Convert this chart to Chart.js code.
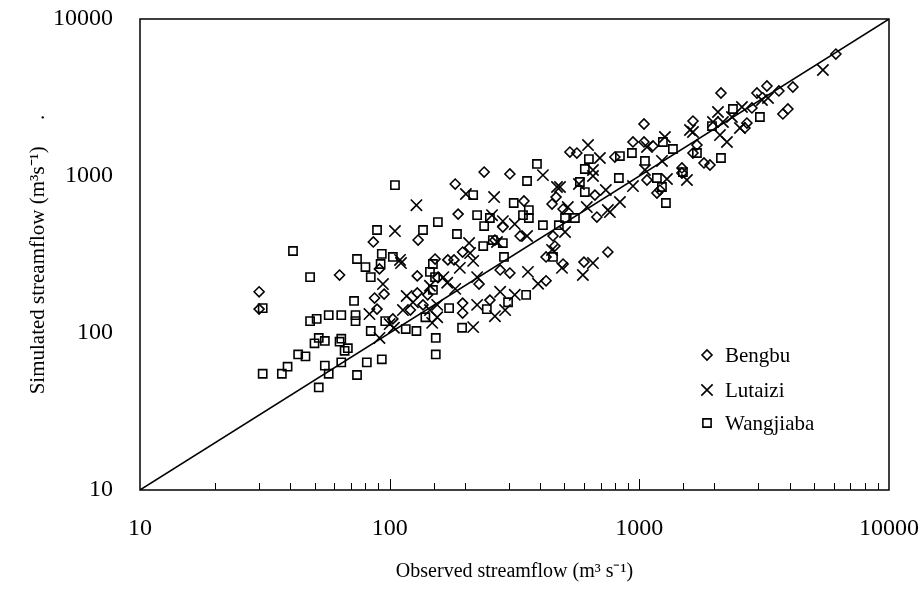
<!DOCTYPE html>
<html>
<head>
<meta charset="utf-8">
<script src="https://cdn.jsdelivr.net/npm/chart.js@4.4.0/dist/chart.umd.min.js"></script>
<style>
  html, body { margin: 0; padding: 0; background: #fff; }
  #c { display: block; }
</style>
</head>
<body>
<canvas id="c" width="920" height="592"></canvas>
<script>
// observed / simulated streamflow pairs (m3/s)
const bengbu = [
  [86,380],[63,234],[30,183],[30,142],[87,167],[95,177],[89,142],[91,256],[130,391],[129,231],
  [103,123],[129,180],[121,140],[188,572],[196,328],[152,296],[171,292],[181,292],[156,225],[228,205],
  [196,155],[252,162],[142,175],[264,391],[239,1060],[303,1030],[183,889],[345,693],[447,663],[464,734],
  [284,473],[333,415],[451,415],[277,252],[303,241],[136,151],[196,134],[423,215],[423,305],[1044,2144],
  [1640,2240],[943,1647],[527,1421],[562,1401],[798,1321],[1044,1647],[1134,1553],[1640,1401],[1481,1125],[1481,1045],
  [1073,943],[1209,814],[1176,779],[495,616],[676,548],[664,756],[459,358],[495,275],[600,283],[748,328],
  [6127,5984],[4122,3689],[3622,3479],[3244,3743],[2958,3378],[2123,3378],[2825,2712],[3936,2672],[3758,2483],[2697,2175],
  [2648,2022],[1701,1576],[1815,1211],[1918,1175]
];
const lutaizi = [
  [105,446],[110,292],[111,279],[94,205],[117,172],[124,157],[83,132],[113,140],[100,114],[104,108],
  [91,93],[128,652],[257,563],[208,374],[164,227],[191,260],[216,288],[224,227],[145,200],[183,191],
  [155,151],[224,151],[411,1013],[202,768],[262,734],[284,516],[317,494],[355,415],[269,380],[210,323],
  [447,338],[468,851],[358,245],[393,206],[277,183],[317,175],[290,140],[264,128],[216,109],[145,140],
  [155,126],[148,116],[170,209],[623,1574],[695,1302],[652,1092],[652,1000],[481,851],[573,889],[734,814],
  [943,863],[1053,1092],[1232,1247],[1073,1530],[1266,1771],[1640,1906],[1551,943],[1290,957],[836,683],[748,607],
  [616,634],[517,634],[762,589],[504,440],[652,279],[594,234],[490,260],[5436,4734],[3275,3139],[2576,2751],
  [2065,2556],[1972,2207],[2162,2207],[2103,1822],[2243,1647],[2529,2022],[1595,1963],[2349,2375],[3098,3049]
];
const wangjiaba = [
  [41,333],[48,227],[31,144],[72,160],[57,130],[64,130],[73,130],[73,119],[48,119],[51,123],
  [84,103],[52,93],[50,86],[55,89],[63,88],[64,92],[68,80],[66,77],[43,73],[46,71],
  [39,61],[55,62],[64,65],[81,65],[93,68],[31,55],[37,55],[57,55],[74,54],[52,45],
  [74,296],[80,263],[84,227],[93,319],[92,275],[103,305],[89,453],[96,119],[116,106],[128,103],
  [156,509],[136,453],[186,427],[224,563],[239,480],[237,358],[259,391],[149,275],[145,245],[152,227],
  [149,188],[173,144],[245,142],[389,1193],[355,929],[216,756],[314,673],[361,607],[361,540],[342,563],
  [252,540],[411,486],[476,486],[284,374],[287,305],[298,157],[352,175],[139,126],[195,108],[153,93],
  [153,73],[451,305],[628,1282],[605,1108],[836,1340],[934,1401],[1053,1247],[1243,1647],[1363,1486],[828,971],
  [578,916],[605,790],[1176,971],[1232,851],[1278,673],[552,540],[504,540],[1495,1060],[2371,2672],[3041,2375],
  [1701,1401],[2123,1302],[1954,2081],[105,875]
];
const seriesNames = ['Bengbu', 'Lutaizi', 'Wangjiaba'];
const axisTicks = [10, 100, 1000, 10000];
const oneToOne = [10, 10000];

const serif = "'Liberation Serif', 'Times New Roman', serif";
const toPoints = (pairs) => pairs.map(([x, y]) => ({ x, y }));
const isMajor = (v) => axisTicks.includes(Math.round(v));

// keep the plot box where the figure has it: no extra room for label overhang
const noOverhang = (s) => {
  s.paddingTop = 0;
  s.paddingBottom = 0;
  s.paddingLeft = 0;
  s.paddingRight = 0;
};

// box round the plot, inward ticks on the x axis, legend inside the plot
const frame = {
  id: 'frame',
  afterDraw(chart) {
    const { ctx, chartArea: a, scales: { x } } = chart;
    ctx.save();
    ctx.strokeStyle = '#000';
    ctx.lineWidth = 1.5;
    ctx.strokeRect(a.left, a.top, a.right - a.left, a.bottom - a.top);

    ctx.lineWidth = 1;
    x.ticks.forEach((t) => {
      if (t.value <= x.min || t.value >= x.max) return;
      const px = Math.round(x.getPixelForValue(t.value)) + 0.5;
      ctx.beginPath();
      ctx.moveTo(px, a.bottom);
      ctx.lineTo(px, a.bottom - (isMajor(t.value) ? 11 : 7));
      ctx.stroke();
    });

    ctx.font = '21px ' + serif;
    ctx.textBaseline = 'middle';
    const rows = [355, 390, 423];
    chart.data.datasets.slice(1).forEach((ds, i) => {
      ctx.fillStyle = 'rgba(0,0,0,0)';
      ctx.lineWidth = ds.borderWidth;
      Chart.helpers.drawPoint(ctx, {
        pointStyle: ds.pointStyle, radius: ds.pointRadius, rotation: 0, borderWidth: ds.borderWidth
      }, 707, rows[i]);
      ctx.fillStyle = '#000';
      ctx.fillText(ds.label, 725, rows[i] + 1);
    });
    ctx.restore();
  }
};

const marker = (label, data, pointStyle, pointRadius) => ({
  type: 'scatter',
  label,
  data: toPoints(data),
  pointStyle,
  pointRadius,
  pointHoverRadius: pointRadius,
  borderColor: '#000',
  backgroundColor: 'rgba(0,0,0,0)',
  borderWidth: 1.6
});

new Chart(document.getElementById('c'), {
  type: 'scatter',
  data: {
    datasets: [
      {
        type: 'line',
        label: '1:1',
        data: oneToOne.map((v) => ({ x: v, y: v })),
        borderColor: '#000',
        borderWidth: 1.5,
        pointRadius: 0,
        showLine: true,
        fill: false
      },
      marker(seriesNames[0], bengbu, 'rectRot', 5),
      marker(seriesNames[1], lutaizi, 'crossRot', 8),
      marker(seriesNames[2], wangjiaba, 'rect', 5.8)
    ]
  },
  options: {
    responsive: false,
    animation: false,
    devicePixelRatio: 1,
    layout: { padding: { top: 19, right: 31, left: 0, bottom: 0 } },
    plugins: { legend: { display: false }, tooltip: { enabled: false } },
    scales: {
      x: {
        type: 'logarithmic',
        min: 10,
        max: 10000,
        afterFit: (s) => { s.height = 102; noOverhang(s); },
        border: { display: false },
        grid: { display: false, drawTicks: false },
        ticks: {
          autoSkip: false,
          maxRotation: 0,
          padding: 24,
          color: '#000',
          font: { family: serif, size: 24 },
          callback: (v) => (isMajor(v) ? String(Math.round(v)) : '')
        },
        title: {
          display: true,
          text: 'Observed streamflow (m³ s⁻¹)',
          color: '#000',
          font: { family: serif, size: 20 },
          padding: { top: 0, bottom: 8 }
        }
      },
      y: {
        type: 'logarithmic',
        min: 10,
        max: 10000,
        afterFit: (s) => { s.width = 140; noOverhang(s); },
        border: { display: false },
        grid: { display: false, drawTicks: false },
        ticks: {
          autoSkip: false,
          padding: 27,
          color: '#000',
          font: { family: serif, size: 24 },
          callback: (v) => (isMajor(v) ? String(Math.round(v)) : '')
        },
        title: {
          display: true,
          text: 'Simulated streamflow (m³s⁻¹)     .',
          color: '#000',
          font: { family: serif, size: 21 },
          padding: { top: 26, bottom: 0 }
        }
      }
    }
  },
  plugins: [frame]
});
</script>
</body>
</html>
